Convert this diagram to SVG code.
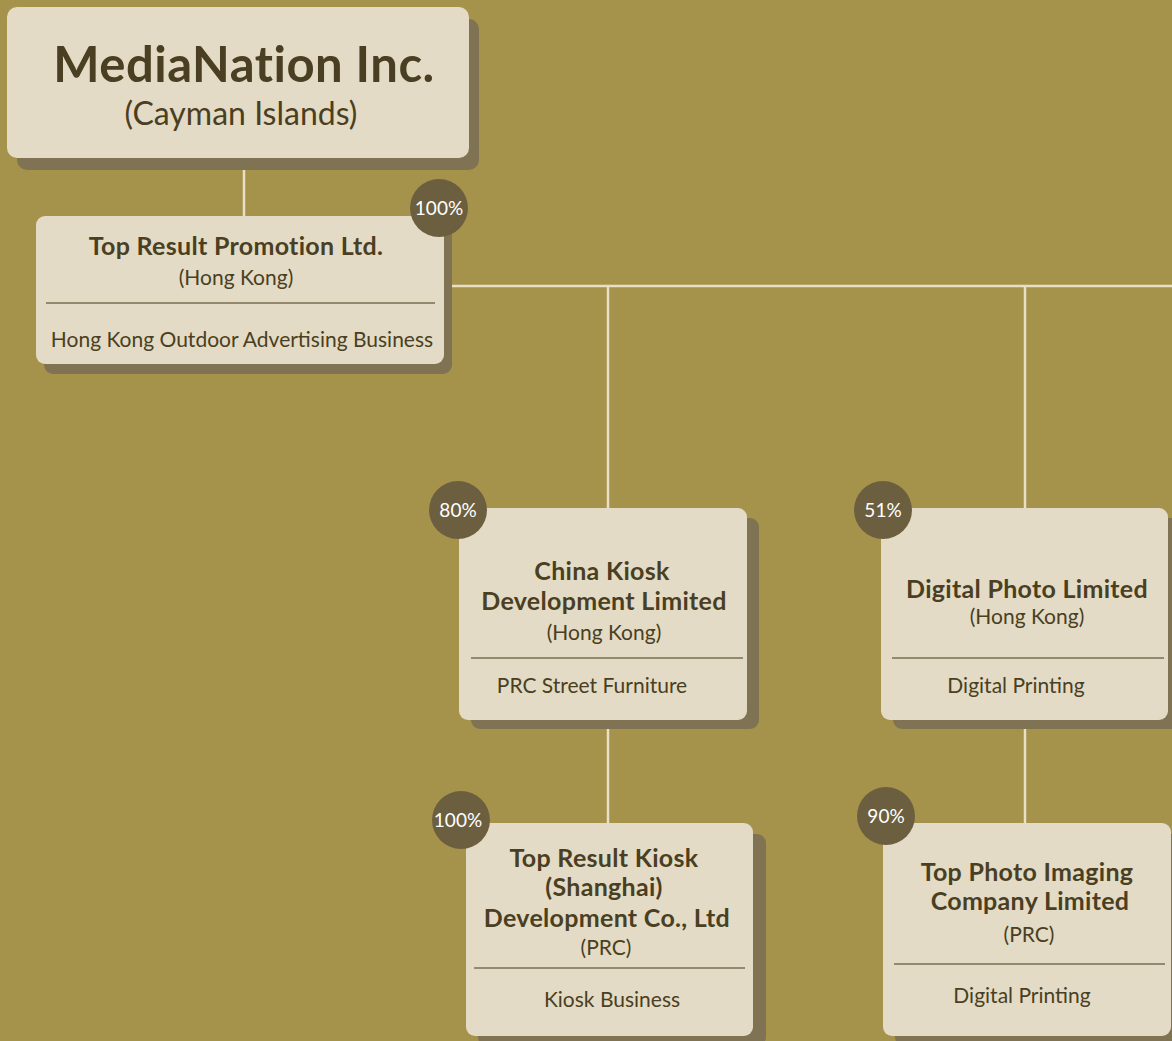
<svg xmlns="http://www.w3.org/2000/svg" width="1172" height="1041" viewBox="0 0 1172 1041">
<style>
.bg{fill:#a5934c}
.box{fill:#e3dbc5}
.sh{fill:#7f7353}
.div{stroke:#7a6e50;stroke-width:1.5}
.con{stroke:#e8dfc4;stroke-width:2.5;fill:none}
.badge{fill:#6b5f40}
.bt{font-family:Lato,"Open Sans","Liberation Sans",sans-serif;font-size:19px;fill:#ffffff;text-anchor:middle}
.b{font-family:Lato,"Liberation Sans",sans-serif;font-weight:bold;fill:#4a3f22;text-anchor:middle;font-size:25px;letter-spacing:0.3px}
.n{font-family:Lato,"Liberation Sans",sans-serif;fill:#4a3f22;text-anchor:middle;font-size:21px}
</style>
<rect class="bg" x="0" y="0" width="1172" height="1041"/>
<g id="connectors">
<line class="con" x1="244" y1="170" x2="244" y2="216"/>
<line class="con" x1="451" y1="286" x2="1172" y2="286"/>
<line class="con" x1="608" y1="286" x2="608" y2="508"/>
<line class="con" x1="1025" y1="286" x2="1025" y2="508"/>
<line class="con" x1="608" y1="729" x2="608" y2="823"/>
<line class="con" x1="1025" y1="729" x2="1025" y2="823"/>
</g>
<g id="n-medianation">
<rect class="sh" x="17" y="19" width="462" height="151" rx="10"/>
<rect class="box" x="7" y="7" width="462" height="151" rx="10"/>
<text class="b" x="244" y="82" style="font-size:49px;letter-spacing:0.5px">MediaNation Inc.</text>
<text class="n" x="241" y="125" style="font-size:32px">(Cayman Islands)</text>
</g>
<g id="n-topresult">
<rect class="sh" x="44" y="226" width="408" height="148" rx="9"/>
<rect class="box" x="36" y="216" width="408" height="148" rx="9"/>
<text class="b" x="236" y="255">Top Result Promotion Ltd.</text>
<text class="n" x="236" y="285">(Hong Kong)</text>
<line class="div" x1="46" y1="303" x2="435" y2="303"/>
<text class="n" x="242" y="347">Hong Kong Outdoor Advertising Business</text>
<circle class="badge" cx="439" cy="208" r="29"/>
<text class="bt" x="439" y="215">100%</text>
</g>
<g id="n-chinakiosk">
<rect class="sh" x="471" y="518" width="288" height="211" rx="9"/>
<rect class="box" x="459" y="508" width="288" height="212" rx="9"/>
<text class="b" x="602" y="580">China Kiosk</text>
<text class="b" x="604" y="610">Development Limited</text>
<text class="n" x="604" y="640">(Hong Kong)</text>
<line class="div" x1="471" y1="658" x2="743" y2="658"/>
<text class="n" x="592" y="693">PRC Street Furniture</text>
<circle class="badge" cx="458" cy="510" r="29"/>
<text class="bt" x="458" y="517">80%</text>
</g>
<g id="n-digitalphoto">
<rect class="sh" x="893" y="518" width="287" height="211" rx="9"/>
<rect class="box" x="881" y="508" width="287" height="212" rx="9"/>
<text class="b" x="1027" y="598">Digital Photo Limited</text>
<text class="n" x="1027" y="624">(Hong Kong)</text>
<line class="div" x1="892" y1="658" x2="1164" y2="658"/>
<text class="n" x="1016" y="693">Digital Printing</text>
<circle class="badge" cx="883" cy="510" r="29"/>
<text class="bt" x="883" y="517">51%</text>
</g>
<g id="n-kioskshanghai">
<rect class="sh" x="478" y="834" width="288" height="212" rx="9"/>
<rect class="box" x="466" y="823" width="287" height="213" rx="9"/>
<text class="b" x="604" y="867">Top Result Kiosk</text>
<text class="b" x="604" y="896">(Shanghai)</text>
<text class="b" x="607" y="927">Development Co., Ltd</text>
<text class="n" x="606" y="955">(PRC)</text>
<line class="div" x1="474" y1="968" x2="745" y2="968"/>
<text class="n" x="612" y="1007">Kiosk Business</text>
<circle class="badge" cx="461" cy="820" r="29"/>
<text class="bt" x="458" y="827">100%</text>
</g>
<g id="n-topphoto">
<rect class="sh" x="895" y="834" width="288" height="212" rx="9"/>
<rect class="box" x="883" y="823" width="288" height="213" rx="9"/>
<text class="b" x="1027" y="881">Top Photo Imaging</text>
<text class="b" x="1030" y="910">Company Limited</text>
<text class="n" x="1029" y="942">(PRC)</text>
<line class="div" x1="894" y1="964" x2="1165" y2="964"/>
<text class="n" x="1022" y="1003">Digital Printing</text>
<circle class="badge" cx="886" cy="816" r="29"/>
<text class="bt" x="886" y="823">90%</text>
</g>
</svg>
